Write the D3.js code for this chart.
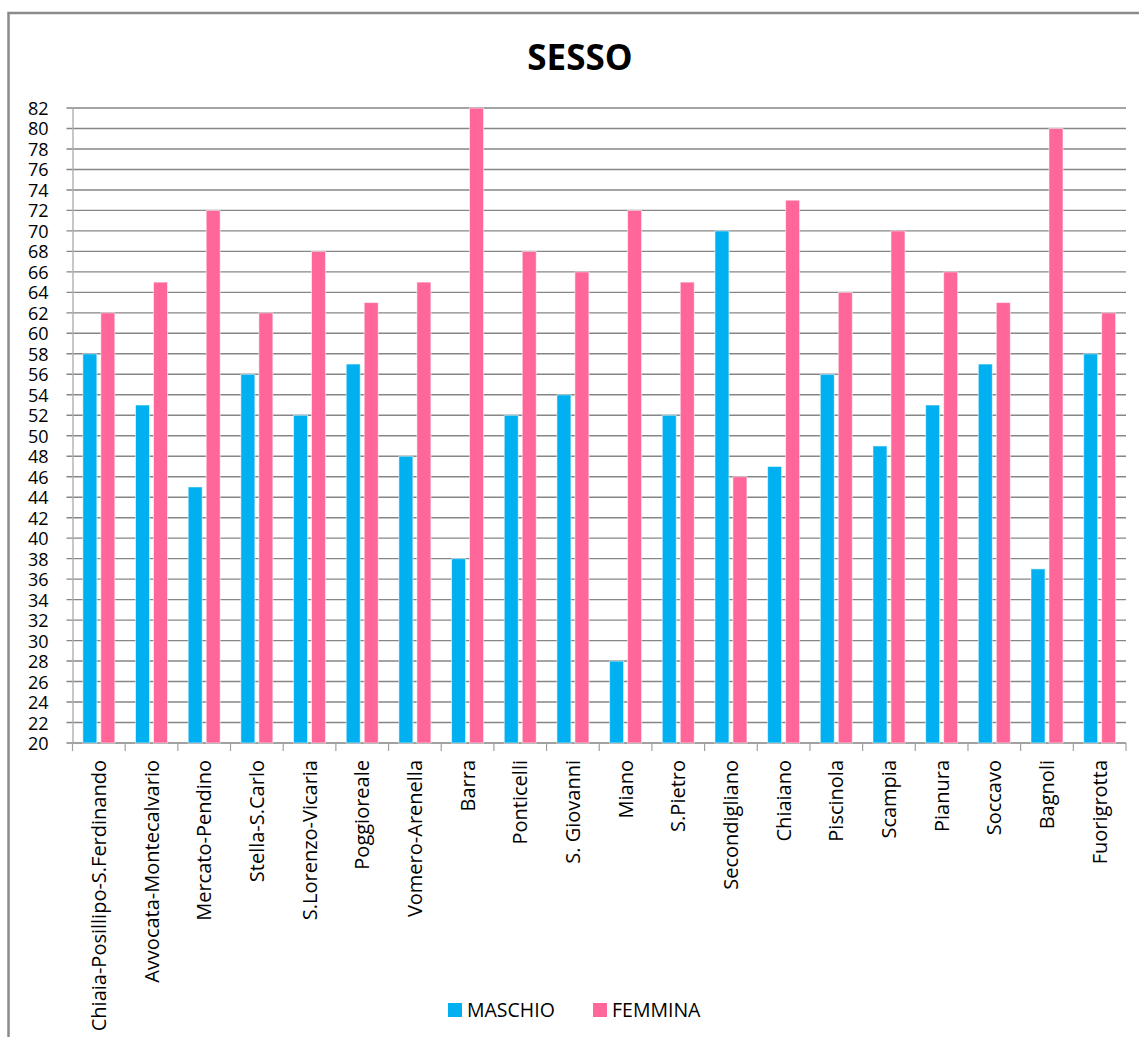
<!DOCTYPE html>
<html>
<head>
<meta charset="utf-8">
<script src="https://cdn.jsdelivr.net/npm/d3@7/dist/d3.min.js"></script>
<style>
  html, body { margin: 0; padding: 0; background: #fff; }
  svg { display: block; }
  text { font-family: "Open Sans", "Noto Sans", sans-serif; fill: #000; }
</style>
</head>
<body>
<script>
// Quartieri di Napoli, ripartizione per sesso
const categories = [
  "Chiaia-Posillipo-S.Ferdinando", "Avvocata-Montecalvario", "Mercato-Pendino",
  "Stella-S.Carlo", "S.Lorenzo-Vicaria", "Poggioreale", "Vomero-Arenella",
  "Barra", "Ponticelli", "S. Giovanni", "Miano", "S.Pietro", "Secondigliano",
  "Chiaiano", "Piscinola", "Scampia", "Pianura", "Soccavo", "Bagnoli", "Fuorigrotta"
];
const maschio = [58, 53, 45, 56, 52, 57, 48, 38, 52, 54, 28, 52, 70, 47, 56, 49, 53, 57, 37, 58];
const femmina = [62, 65, 72, 62, 68, 63, 65, 82, 68, 66, 72, 65, 46, 73, 64, 70, 66, 63, 80, 62];
const seriesNames = ["MASCHIO", "FEMMINA"];
const yTicks = d3.range(20, 83, 2);
const title = "SESSO";

const W = 1139, H = 1037;
const colors = { MASCHIO: "#00B0F0", FEMMINA: "#FF6699" };
const plot = { left: 72.5, right: 1126, top: 108, bottom: 743 };

const svg = d3.select("body").append("svg").attr("width", W).attr("height", H);

// outer chart frame
svg.append("rect")
  .attr("x", 8.5).attr("y", 13).attr("width", W + 10).attr("height", H + 10)
  .attr("fill", "none").attr("stroke", "#8a8a8a").attr("stroke-width", 2.5);

svg.append("text")
  .attr("x", 580).attr("y", 70)
  .attr("text-anchor", "middle")
  .attr("font-size", 35).attr("font-weight", "bold")
  .text(title);

const x = d3.scaleBand().domain(categories).range([plot.left, plot.right]).padding(0);
const xs = d3.scaleBand().domain(seriesNames).range([0, x.bandwidth()])
  .paddingInner(0.222).paddingOuter(0.575);
const y = d3.scaleLinear().domain([20, 82]).range([plot.bottom, plot.top]);

// horizontal gridlines with small outward ticks
svg.append("g").selectAll("line").data(yTicks).join("line")
  .attr("x1", plot.left - 6).attr("x2", plot.right)
  .attr("y1", d => y(d)).attr("y2", d => y(d))
  .attr("stroke", "#868686").attr("stroke-width", 1.4);

// y axis
const yAxis = svg.append("g").attr("transform", `translate(${plot.left},0)`)
  .call(d3.axisLeft(y).tickValues(yTicks).tickSize(0).tickPadding(24));
yAxis.select(".domain").attr("stroke", "#b0b0b0").attr("stroke-width", 1.4);
yAxis.selectAll("text").attr("font-size", 18).attr("dy", "0.36em");

// x axis baseline and category boundary ticks
svg.append("line")
  .attr("x1", plot.left).attr("x2", plot.right)
  .attr("y1", plot.bottom).attr("y2", plot.bottom)
  .attr("stroke", "#a0a0a0").attr("stroke-width", 1.4);
const bounds = categories.map(c => x(c)).concat([x(categories[categories.length - 1]) + x.bandwidth()]);
svg.append("g").selectAll("line").data(bounds).join("line")
  .attr("x1", d => d).attr("x2", d => d)
  .attr("y1", plot.bottom).attr("y2", plot.bottom + 8)
  .attr("stroke", "#a0a0a0").attr("stroke-width", 1.2);

// bars
const rows = categories.map((c, i) => ({ cat: c, MASCHIO: maschio[i], FEMMINA: femmina[i] }));
const groups = svg.append("g").selectAll("g").data(rows).join("g")
  .attr("transform", d => `translate(${x(d.cat)},0)`);
groups.selectAll("rect")
  .data(d => seriesNames.map(s => ({ s, v: d[s] })))
  .join("rect")
  .attr("x", d => xs(d.s))
  .attr("width", xs.bandwidth())
  .attr("y", d => y(d.v))
  .attr("height", d => y(20) - y(d.v))
  .attr("fill", d => colors[d.s])
  .attr("stroke", "rgba(255,255,255,0.55)")
  .attr("stroke-width", 1);

// rotated category labels
svg.append("g").selectAll("text").data(categories).join("text")
  .attr("transform", d => `translate(${x(d) + x.bandwidth() / 2},${plot.bottom + 17}) rotate(-90)`)
  .attr("text-anchor", "end")
  .attr("dy", "0.35em")
  .attr("font-size", 20)
  .text(d => d);

// legend
const legend = svg.append("g");
const legendItems = [
  { name: "MASCHIO", x: 448 },
  { name: "FEMMINA", x: 593 }
];
legendItems.forEach(it => {
  legend.append("rect")
    .attr("x", it.x).attr("y", 1003).attr("width", 14).attr("height", 14)
    .attr("fill", colors[it.name]);
  legend.append("text")
    .attr("x", it.x + 19).attr("y", 1017)
    .attr("font-size", 19.5)
    .text(it.name);
});
</script>
</body>
</html>
